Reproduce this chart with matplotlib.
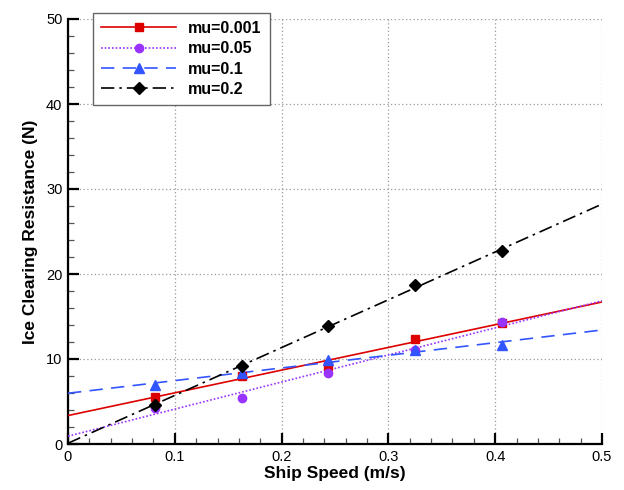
import numpy as np
import matplotlib
matplotlib.use("Agg")
import matplotlib.pyplot as plt
from matplotlib.lines import Line2D
from matplotlib.ticker import MultipleLocator

plt.rcParams['font.family'] = ['Liberation Sans', 'DejaVu Sans']

speed = [0.0813, 0.1626, 0.2439, 0.3252, 0.4065]
labels = ["mu=0.001", "mu=0.05", "mu=0.1", "mu=0.2"]
res_mu0001 = [5.56, 7.96, 9.2, 12.4, 14.2]
res_mu005 = [4.2, 5.45, 8.39, 11.06, 14.35]
res_mu01 = [6.95, 8.4, 9.9, 11.1, 11.65]
res_mu02 = [4.59, 9.18, 13.9, 18.7, 22.7]
series = [res_mu0001, res_mu005, res_mu01, res_mu02]

colors = ['#dd0000', '#9933ff', '#3355ff', '#000000']
markers = ['s', 'o', '^', 'D']
msizes = [5.5, 6, 6.5, 6]
styles = ['-', (0, (1, 1.2)), (0, (8, 5)), (0, (8, 3, 1.5, 3))]

fig = plt.figure(figsize=(6.24, 4.9), dpi=100)
ax = fig.add_axes([68/624, 1-444/490, 534/624, 425/490])

xfit = np.linspace(0, 0.5, 50)
handles = []
for y, c, m, ms, ls, lab in zip(series, colors, markers, msizes, styles, labels):
    k, b = np.polyfit(speed, y, 1)
    ax.plot(xfit, k*xfit + b, color=c, linestyle=ls, linewidth=1.2, zorder=3)
    ax.plot(speed, y, linestyle='none', marker=m, color=c, markersize=ms, zorder=4)
    handles.append(Line2D([], [], color=c, linestyle=ls, linewidth=1.2,
                          marker=m, markersize=ms))

ax.set_xlim(0, 0.5)
ax.set_ylim(0, 50)
ax.xaxis.set_major_locator(MultipleLocator(0.1))
ax.xaxis.set_minor_locator(MultipleLocator(0.02))
ax.yaxis.set_major_locator(MultipleLocator(10))
ax.yaxis.set_minor_locator(MultipleLocator(2))
ax.set_xticks([0, 0.1, 0.2, 0.3, 0.4, 0.5])
ax.set_xticklabels(["0", "0.1", "0.2", "0.3", "0.4", "0.5"])

ax.grid(True, which='major', linestyle=(0, (1, 2)), color='#999999', linewidth=0.9)
ax.set_axisbelow(True)
for s in ['top', 'right']:
    ax.spines[s].set_visible(False)
for s in ['left', 'bottom']:
    ax.spines[s].set_linewidth(1.6)
ax.tick_params(which='major', direction='in', length=8, width=1.6, labelsize=10.5, pad=4)
ax.tick_params(which='minor', direction='in', length=4, width=0.9, color='#555555')

ax.set_xlabel("Ship Speed (m/s)", fontsize=12.5, fontweight='bold', labelpad=2)
ax.set_ylabel("Ice Clearing Resistance (N)", fontsize=12.5, fontweight='bold', labelpad=6)

leg = ax.legend(handles, labels, loc='upper left', bbox_to_anchor=(25/534, 1.014),
                borderaxespad=0, handlelength=4.7, fancybox=False,
                edgecolor='#666666', framealpha=1, labelspacing=0.33, handletextpad=0.75,
                borderpad=0.5, prop={'weight': 'bold', 'size': 11.5})
leg.get_frame().set_linewidth(1.0)
leg.set_zorder(10)

fig.savefig("out.png", dpi=100)
